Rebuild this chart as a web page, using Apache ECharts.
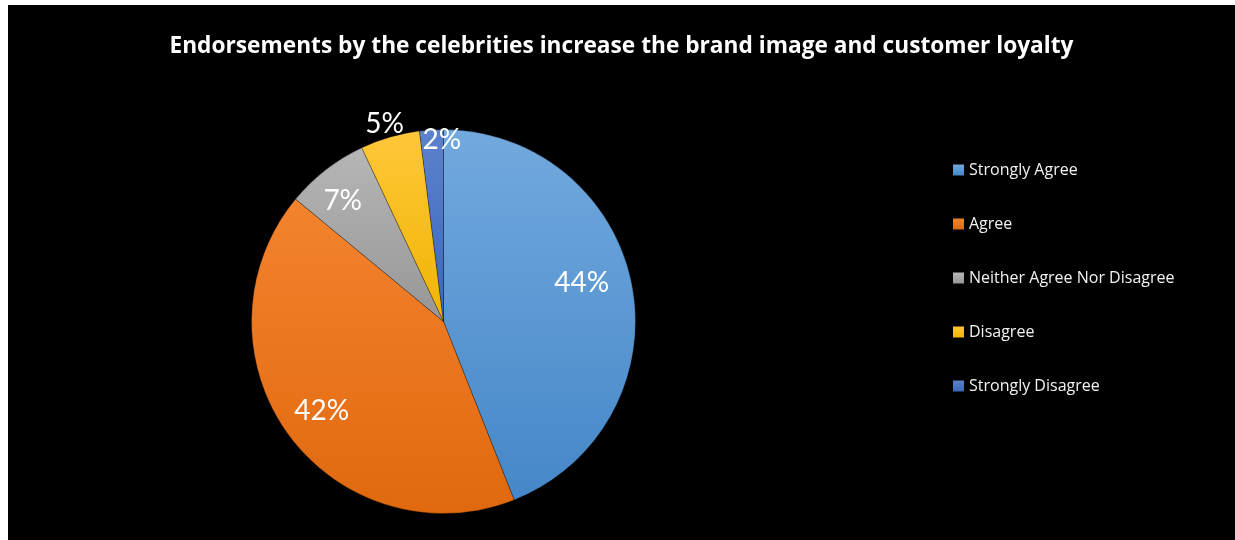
<!DOCTYPE html>
<html>
<head>
<meta charset="utf-8">
<script src="https://cdn.jsdelivr.net/npm/echarts@6/dist/echarts.min.js"></script>
<style>
  html, body { margin: 0; padding: 0; background: #ffffff; }
  #chart { position: absolute; left: 8px; top: 5px; width: 1227px; height: 535px; }
</style>
</head>
<body>
<div id="chart"></div>
<script>
const titleText = 'Endorsements by the celebrities increase the brand image and customer loyalty';
const categories = ['Strongly Agree', 'Agree', 'Neither Agree Nor Disagree', 'Disagree', 'Strongly Disagree'];
const values = [44, 42, 7, 5, 2];
const topColors = ['#72a9de', '#f4832e', '#b6b6b6', '#ffc73a', '#5d82cc'];
const bottomColors = ['#4587c8', '#e0690f', '#969696', '#f0b400', '#3a67be'];
// which label ring each slice's label sits on (0: inner, 1: near rim, 2: outside)
const labelRing = [0, 0, 0, 2, 1];
// small nudges of each label from its ring position (style only)
const labelNudge = [[-12, -10], [2, 0], [-7, 0], [0, 5], [10, 4]];

function grad(i) {
  return new echarts.graphic.LinearGradient(0, 0, 0, 1, [
    { offset: 0, color: topColors[i] },
    { offset: 1, color: bottomColors[i] }
  ]);
}

const center = [435.5, 316.5];
const mainData = categories.map((n, i) => ({ name: n, value: values[i], itemStyle: { color: grad(i) } }));

function labelSeries(ring, radius) {
  return {
    type: 'pie',
    silent: true,
    center: center,
    radius: radius,
    startAngle: 90,
    clockwise: true,
    z: 5,
    itemStyle: { color: 'rgba(0,0,0,0)', borderWidth: 0 },
    emphasis: { disabled: true },
    labelLine: { show: false },
    data: categories.map((n, i) => ({
      name: n,
      value: values[i],
      label: {
        show: labelRing[i] === ring,
        position: 'inside',
        formatter: '{c}%',
        color: '#ffffff',
        fontFamily: 'Lato',
        fontSize: 28,
        offset: labelNudge[i],
        textBorderWidth: 0
      }
    }))
  };
}

const chart = echarts.init(document.getElementById('chart'));
chart.setOption({
  backgroundColor: '#000000',
  animation: false,
  title: {
    text: titleText,
    left: 'center',
    top: 25,
    textStyle: { color: '#ffffff', fontFamily: 'Open Sans', fontWeight: 'bold', fontSize: 22.7 }
  },
  legend: {
    orient: 'vertical',
    left: 945,
    top: 157,
    padding: 0,
    itemWidth: 11,
    itemHeight: 11,
    itemGap: 38,
    itemStyle: { borderWidth: 0 },
    icon: 'rect',
    data: categories,
    selectedMode: false,
    textStyle: { color: '#f2f2f2', fontFamily: 'Open Sans', fontSize: 16 }
  },
  series: [
    {
      type: 'pie',
      center: center,
      radius: [0, 192],
      startAngle: 90,
      clockwise: true,
      z: 2,
      emphasis: { disabled: true },
      label: { show: false },
      labelLine: { show: false },
      itemStyle: { borderColor: 'rgba(0,0,0,0.45)', borderWidth: 0.6 },
      data: mainData
    },
    labelSeries(0, [0, 300]),
    labelSeries(1, [0, 366]),
    labelSeries(2, [0, 416])
  ]
});
</script>
</body>
</html>
